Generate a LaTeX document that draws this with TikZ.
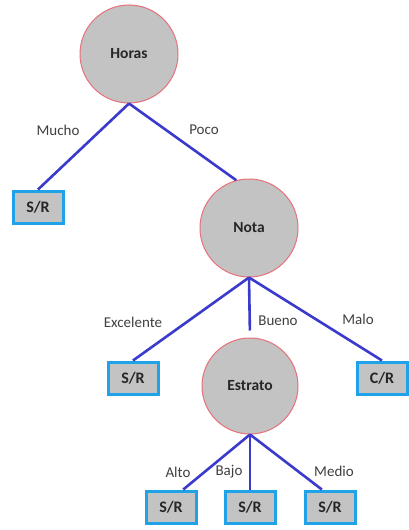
\documentclass[tikz,border=0pt]{standalone}
\usepackage{xcolor}
\usepackage{fontspec}
\setmainfont{Carlito}
\usepackage{tikz}
\usetikzlibrary{shapes.geometric, positioning}

\definecolor{nodegray}{HTML}{C3C3C3}
\definecolor{ringred}{HTML}{E8707A}
\definecolor{boxblue}{HTML}{1FA2E8}
\definecolor{edgeblue}{HTML}{3A3ACC}
\definecolor{lblgray}{HTML}{404040}

\begin{document}
\begin{tikzpicture}[x=1pt, y=1pt]

\tikzset{
  attr/.style    = {circle, minimum size=98pt, inner sep=0pt, fill=nodegray,
                    draw=ringred, line width=1pt,
                    font=\fontsize{15.5}{18}\selectfont\bfseries, text=black!85},
  leaf/.style    = {rectangle, minimum width=50pt, minimum height=32pt,
                    inner sep=0pt, fill=nodegray, draw=boxblue, line width=3pt,
                    font=\fontsize{16}{18}\selectfont\bfseries, text=black!85},
  edge/.style    = {edgeblue, line width=2.6pt},
  elbl/.style    = {font=\fontsize{15}{18}\selectfont, text=lblgray}
}

%% ── Canvas ──────────────────────────────────────────────────────
\fill[white] (0, 0) rectangle (407, -530);

%% ── Decision nodes ──────────────────────────────────────────────
\node[attr] (horas)   at (129, -54)  {Horas};
\node[attr] (nota)    at (249, -228) {Nota};
\node[attr, minimum size=96pt] (estrato) at (250, -386) {Estrato};

%% ── Leaves ──────────────────────────────────────────────────────
\node[leaf] (srMucho)  at (38, -207)  {S/R};
\node[leaf] (srExc)    at (133, -378) {S/R};
\node[leaf] (crMalo)   at (382, -378) {C/R};
\node[leaf] (srAlto)   at (171, -507) {S/R};
\node[leaf] (srBajo)   at (250, -507) {S/R};
\node[leaf] (srMedio)  at (330, -507) {S/R};

%% ── Edges: Horas ────────────────────────────────────────────────
\draw[edge] (horas.south) -- (srMucho.north);
\draw[edge] (horas.south) -- (nota.105);

%% ── Edges: Nota ─────────────────────────────────────────────────
\draw[edge] (nota.south) -- (srExc.north);
\draw[edge, shorten >=7pt] (nota.south) -- (estrato.north);
\draw[edge] (nota.south) -- (crMalo.north);

%% ── Edges: Estrato ──────────────────────────────────────────────
\draw[edge] (estrato.south) -- (srAlto.55);
\draw[edge] (estrato.south) -- (srBajo.north);
\draw[edge] (estrato.south) -- (srMedio.115);

%% ── Edge labels ─────────────────────────────────────────────────
\node[elbl] (lMucho) at (58, -130)  {Mucho};
\node[elbl] (lPoco)  at (204, -130) {Poco};
\node[elbl] (lExc)   at (133, -322) {Excelente};
\node[elbl] (lBueno) at (278, -321) {Bueno};
\node[elbl] (lMalo)  at (358, -319) {Malo};
\node[elbl] (lAlto)  at (178, -472) {Alto};
\node[elbl] (lBajo)  at (229, -472) {Bajo};
\node[elbl] (lMedio) at (334, -471) {Medio};

\end{tikzpicture}
\end{document}
